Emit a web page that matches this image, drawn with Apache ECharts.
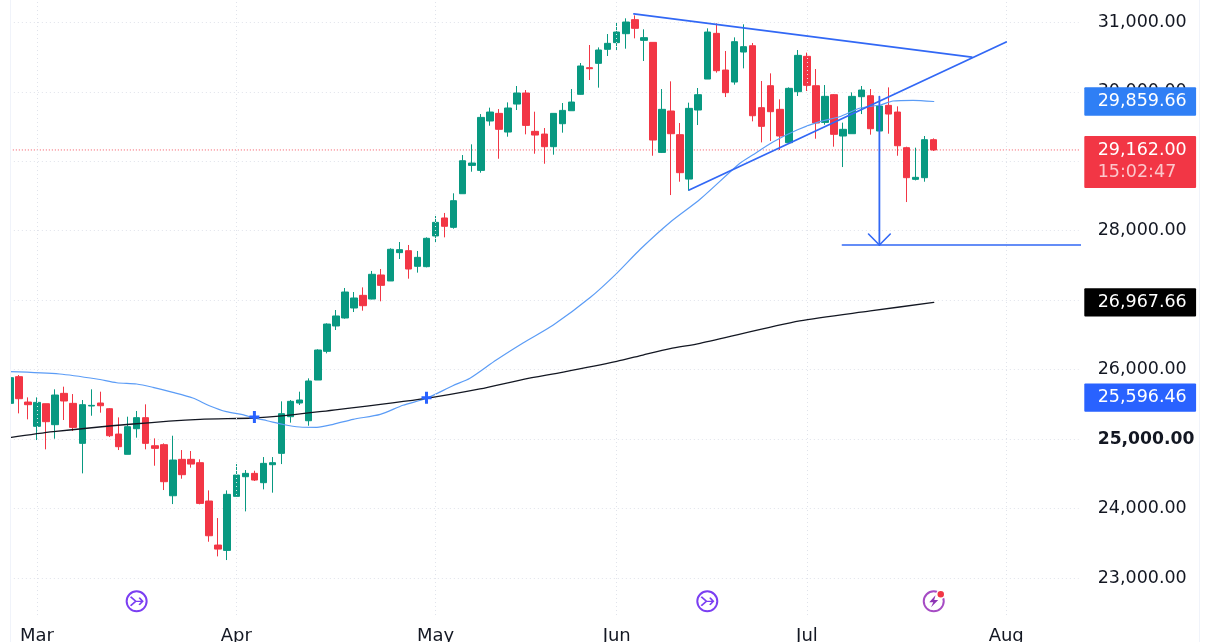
<!DOCTYPE html>
<html>
<head>
<meta charset="utf-8">
<title>Daily candles with moving averages</title>
<script src="https://cdn.jsdelivr.net/npm/echarts@6/dist/echarts.min.js"></script>
<style>
html,body{margin:0;padding:0;background:#fff;overflow:hidden}
#chart{width:1210px;height:642px}
</style>
</head>
<body>
<div id="chart"></div>
<script>
// Daily prices, one entry per trading session
const opens = [25514,25898,25533,25183,25509,25207,25658,25514,24938,25476,25519,25437,25072,24780,25149,25308,24904,24919,24184,24708,24708,24660,24108,23474,23397,24175,24458,24506,24372,24631,24794,25322,25519,25264,25850,26263,26628,26743,26887,27069,27016,27362,27276,27684,27712,27487,27482,27924,28183,28048,28532,28940,28868,29579,29689,29420,29823,29982,29430,29391,29209,29540,29727,29963,30347,30409,30611,30707,30836,31038,30740,30711,29127,29723,29382,28743,29737,30183,30841,30313,30140,30572,30663,29771,30087,29747,29267,30001,30510,30087,29559,29958,29363,29396,29929,29943,29435,29804,29708,29195,28739,28763,29310];
const closes = [25884,25581,25495,25528,25250,25634,25548,25168,25495,25485,25480,25048,24890,25178,25308,24938,24866,24386,24698,24487,24640,24074,23608,23416,24204,24482,24506,24410,24650,24660,25365,25543,25562,25836,26282,26656,26772,27117,27031,26920,27372,27213,27732,27727,27448,27616,27890,28120,28063,28432,29007,28974,29631,29708,29459,29766,29982,29516,29377,29209,29689,29732,29852,30371,30332,30601,30697,30860,31004,30913,30779,29305,29747,29396,28835,29761,29958,30860,30303,29987,30721,30649,29655,29502,29713,29363,30049,30524,30092,29550,29934,29387,29459,29934,30025,29468,29795,29679,29223,28763,28768,29310,29162];
const lows = [25514,25370,25284,24986,24852,25005,25274,25116,24506,25336,25380,25029,24842,24780,25020,24852,24616,24266,24064,24429,24588,24060,23522,23311,23258,24175,23959,24396,24276,24228,24640,25236,25490,25192,25850,26234,26570,26733,26829,26848,27012,26983,27276,27592,27309,27396,27472,27828,27904,28029,28532,28849,28835,29511,29036,29353,29737,29387,29108,28964,29094,29411,29727,29958,30169,30059,30515,30587,30620,30769,30443,29079,29118,28513,28705,28575,29521,30183,30275,29924,30102,30337,29574,29271,29291,29161,29257,29939,30011,29324,29526,29209,28916,29396,29679,29382,29305,29396,29079,28412,28724,28705,29147];
const highs = [25922,25922,25600,25600,25509,25716,25754,25648,25562,25716,25682,25447,25312,25322,25404,25500,25010,24938,25048,24842,24828,24708,24261,23863,24261,24640,24554,24544,24741,24741,25543,25562,25682,25874,26292,26666,26858,27175,27117,27184,27420,27448,27746,27837,27794,27708,27904,28212,28255,28538,29089,29243,29679,29771,29751,29847,30083,30025,29713,29478,29689,29838,30039,30414,30673,30639,30831,30995,31057,31100,30899,30711,30039,30150,29550,29843,30054,30913,30985,30587,30783,30971,30702,30155,30265,29891,30063,30601,30563,30327,30097,29967,29555,29991,30083,30039,29929,30063,29790,29209,29195,29363,29329];

// Calendar slots on the axis: sessions drawn plus empty room on the right
const slotCount = 119;
const monthBars = [3, 25, 47, 67, 88, 110];
const monthNames = ['Mar', 'Apr', 'May', 'Jun', 'Jul', 'Aug'];

// Fast moving average
const fastBars = [0,5.5,9.6,11.8,14,15.8,18,20.2,22.1,23.9,25.7,27,28.4,30.2,32,33.9,35.7,37.9,40.9,43.4,46,48.9,50.8,53.7,56.7,60,64.1,67,69.6,72.9,76.2,80.6,82,84.3,86.9,89.4,91.6,93.9,96.1,97.5,99.7,102];
const fastValues = [25970,25937,25865,25811,25793,25745,25673,25591,25476,25394,25351,25303,25264,25210,25174,25169,25212,25284,25356,25486,25587,25768,25875,26138,26387,26642,27041,27386,27732,28121,28452,28970,29090,29281,29449,29569,29641,29766,29809,29867,29877,29859.66];

// Slow moving average
const slowBars = [0,4.8,13.6,21,26.9,30.6,34.2,46,51.9,56.7,61.1,67,69.9,72.9,76.2,87.2,95,102];
const slowValues = [25020,25106,25217,25284,25303,25342,25394,25587,25721,25860,25965,26119,26210,26301,26379,26700,26844,26967.66];

// Moving-average crossings
const crossBars = [27, 46];
const crossValues = [25317, 25596.46];

// Hand-drawn chart analysis: triangle, measured move and target
const upperTrend = [[68.9, 31120], [106.2, 30500]];
const lowerTrend = [[75, 28586], [110, 30716]];
const moveArrow = [[96, 29929], [96, 27794]];
const arrowHead = [[94.8, 27952], [96, 27794], [97.2, 27952]];
const targetLine = [[91.9, 27794], [118.5, 27794]];

// Current price and the scale tags
const lastPrice = 29162;
const countdown = '15:02:47';
const fastTag = 29859.66;
const slowTag = 26967.66;
const crossTag = 25596.46;

// Event markers along the foot of the pane
const eventLevel = 22664;
const splitEventBars = [14, 77];
const earningsEventBars = [102];

const FONT = '"DejaVu Sans"';
const UP = '#089981', DOWN = '#F23645', DRAWING = '#3268f5', TEXT = '#131722';
const priceText = v => v.toLocaleString('en-US', { minimumFractionDigits: 2, maximumFractionDigits: 2 });
const slotLabels = Array.from({ length: slotCount }, (_, i) => {
  const m = monthBars.indexOf(i);
  return m >= 0 ? monthNames[m] : '';
});
const zip = (a, b) => a.map((v, i) => [v, b[i]]);
const TAG_SLOT = 118.62;

function polyline(name, data, color, width, z, extra) {
  return Object.assign({
    name, type: 'line', xAxisIndex: 1, yAxisIndex: 0, data, symbol: 'none', z,
    clip: false, silent: true, animation: false,
    lineStyle: { color, width, cap: 'round', join: 'round' }
  }, extra || {});
}

function tag(price, color, fontColor) {
  return {
    value: [TAG_SLOT, price],
    label: {
      show: true, position: 'right', distance: 0, opacity: 1,
      formatter: priceText(price),
      fontFamily: FONT, fontSize: 17.5, color: fontColor,
      backgroundColor: color, borderRadius: 1,
      width: 98.4, height: 28.4, lineHeight: 28.4,
      padding: [0, 0, 0, 13.4]
    }
  };
}

const chart = echarts.init(document.getElementById('chart'), null, { renderer: 'canvas' });

chart.setOption({
  animation: false,
  backgroundColor: '#ffffff',
  textStyle: { fontFamily: FONT },
  grid: { left: 9.83, top: -47.16, width: 1068.84, height: 694.6, containLabel: false, outerBoundsMode: 'none' },
  xAxis: [
    {
      type: 'category', data: slotLabels, boundaryGap: false,
      axisLine: { show: false }, axisTick: { show: false }, splitLine: { show: false },
      axisLabel: {
        inside: true, margin: 2, interval: (i, v) => v !== '',
        fontFamily: FONT, fontSize: 18, color: TEXT, hideOverlap: false
      }
    },
    { type: 'value', min: 0, max: slotCount - 1, show: false, position: 'top', splitLine: { show: false } }
  ],
  yAxis: [{
    type: 'value', position: 'right', min: 22000, max: 32000, interval: 1000,
    axisLine: { show: false }, axisTick: { show: false },
    splitLine: { lineStyle: { color: '#e0e3eb', width: 1, type: [1, 3] } },
    axisLabel: {
      margin: 19, fontFamily: FONT, fontSize: 17.5, color: TEXT,
      // The scale runs past the pane; only the levels inside it carry a label
      formatter: v => v <= 22000 || v >= 32000 ? '' : (v === 25000 ? '{strong|' + priceText(v) + '}' : priceText(v)),
      rich: { strong: { fontFamily: FONT, fontSize: 17.2, fontWeight: 'bold', color: TEXT } }
    }
  }],
  graphic: [
    // Margin left of the pane hides the part of the oldest candle that falls outside it
    { type: 'rect', silent: true, z: 50, shape: { x: 0, y: 0, width: 10, height: 642 }, style: { fill: '#ffffff' } },
    { type: 'line', silent: true, z: 51, shape: { x1: 10.5, y1: 0, x2: 10.5, y2: 642 }, style: { stroke: '#f0f3fa', lineWidth: 1 } },
    { type: 'line', silent: true, z: 0, shape: { x1: 1199.5, y1: 0, x2: 1199.5, y2: 642 }, style: { stroke: '#f0f3fa', lineWidth: 1 } }
  ],
  series: [
    // Month separators stop above the date labels
    {
      name: 'months', type: 'line', xAxisIndex: 1, data: [], symbol: 'none', z: 1, silent: true,
      markLine: {
        silent: true, symbol: 'none', label: { show: false }, animation: false,
        lineStyle: { color: '#e0e3eb', width: 1, type: [1, 3] },
        data: monthBars.map(b => [{ xAxis: b, yAxis: 22467 }, { xAxis: b, yAxis: 32000 }])
      }
    },
    polyline('last price', [[0, lastPrice], [118.26, lastPrice]], DOWN, 1, 2, { lineStyle: { color: DOWN, width: 1, type: [1, 2], opacity: 0.85 } }),
    {
      name: 'price', type: 'candlestick', xAxisIndex: 0, yAxisIndex: 0, z: 3, barWidth: 7, silent: true,
      data: opens.map((o, i) => [o, closes[i], lows[i], highs[i]]),
      itemStyle: { color: UP, color0: DOWN, borderColor: UP, borderColor0: DOWN, borderWidth: 1 }
    },
    polyline('fast average', zip(fastBars, fastValues), '#5b9cf6', 1.2, 4, { smooth: 0.25 }),
    polyline('slow average', zip(slowBars, slowValues), TEXT, 1.3, 4, { smooth: 0.25 }),
    polyline('upper trend', upperTrend, DRAWING, 1.8, 5),
    polyline('lower trend', lowerTrend, DRAWING, 1.8, 5),
    polyline('move', moveArrow, DRAWING, 1.8, 5),
    polyline('arrow head', arrowHead, DRAWING, 1.6, 5),
    polyline('target', targetLine, DRAWING, 1.3, 5),
    {
      name: 'crossings', type: 'scatter', xAxisIndex: 1, z: 6, silent: true,
      symbol: 'path://M3.5 0h3v4.5h3.5v3h-3.5v4.5h-3v-4.5h-3.5v-3h3.5z', symbolSize: [10, 12],
      itemStyle: { color: '#2962FF', opacity: 1 }, data: zip(crossBars, crossValues)
    },
    // Split events: ringed arrow
    {
      name: 'split ring', type: 'scatter', xAxisIndex: 1, z: 6, silent: true, symbol: 'circle', symbolSize: 20,
      itemStyle: { color: 'transparent', borderColor: '#7b3ff2', borderWidth: 2, opacity: 1 },
      data: splitEventBars.map(b => [b, eventLevel])
    },
    {
      name: 'split glyph', type: 'scatter', xAxisIndex: 1, z: 6, silent: true,
      symbol: 'path://M0 0L6 5L0 10M6 5L14 5M10 1L14 5L10 9', symbolSize: [12, 9],
      itemStyle: { color: 'transparent', borderColor: '#7b3ff2', borderWidth: 1.6, opacity: 1 },
      data: splitEventBars.map(b => [b, eventLevel])
    },
    // Earnings event: ringed bolt with a notification dot
    {
      name: 'earnings ring', type: 'scatter', xAxisIndex: 1, z: 6, silent: true, symbol: 'circle', symbolSize: 20,
      itemStyle: { color: 'transparent', borderColor: '#a64cc4', borderWidth: 2, opacity: 1 },
      data: earningsEventBars.map(b => [b, eventLevel])
    },
    {
      name: 'earnings glyph', type: 'scatter', xAxisIndex: 1, z: 6, silent: true,
      symbol: 'path://M8 0L1 8L5.5 8L3 14L11 5.5L6.5 5.5Z', symbolSize: [9, 12],
      itemStyle: { color: '#8e35b5', opacity: 1 },
      data: earningsEventBars.map(b => [b, eventLevel])
    },
    {
      name: 'earnings dot', type: 'scatter', xAxisIndex: 1, z: 7, silent: true, symbol: 'circle', symbolSize: 8,
      symbolOffset: [7, -7],
      itemStyle: { color: DOWN, borderColor: '#ffffff', borderWidth: 1.5, opacity: 1 },
      data: earningsEventBars.map(b => [b, eventLevel])
    },
    // Price-scale tags sit over the axis labels
    {
      name: 'scale tags', type: 'scatter', xAxisIndex: 1, z: 8, silent: true, clip: false,
      symbol: 'circle', symbolSize: 0.01, itemStyle: { color: 'transparent', opacity: 1 },
      data: [
        tag(fastTag, '#2f7ff5', '#ffffff'),
        tag(slowTag, '#000000', '#ffffff'),
        tag(crossTag, '#2962FF', '#ffffff'),
        {
          value: [TAG_SLOT, lastPrice],
          label: {
            show: true, position: 'right', distance: 0, offset: [0, 12], opacity: 1,
            formatter: '{p|' + priceText(lastPrice) + '}\n{t|' + countdown + '}',
            backgroundColor: DOWN, borderRadius: 1, width: 98.4,
            padding: [3, 0, 5, 13.4],
            rich: {
              p: { fontFamily: FONT, fontSize: 17.5, color: '#ffffff', lineHeight: 22 },
              t: { fontFamily: FONT, fontSize: 17.5, color: 'rgba(255,255,255,0.72)', lineHeight: 22 }
            }
          }
        }
      ]
    }
  ]
});
</script>
</body>
</html>
